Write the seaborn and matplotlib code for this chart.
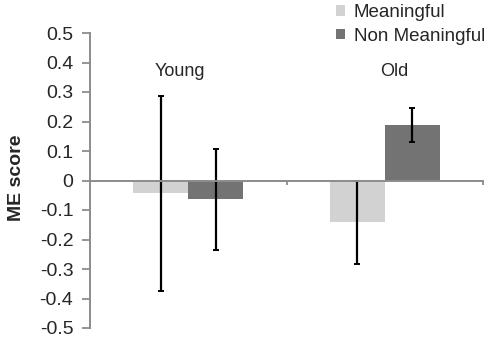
import matplotlib
matplotlib.use("Agg")
import matplotlib.pyplot as plt
import seaborn as sns
import pandas as pd
import numpy as np
from matplotlib.patches import Patch

groups = ["Young", "Old"]
conditions = ["Meaningful", "Non Meaningful"]
meaningful_vals = [-0.044, -0.142]
meaningful_err = [0.331, 0.142]
nonmeaningful_vals = [-0.064, 0.187]
nonmeaningful_err = [0.170, 0.058]
yticks = [-0.5, -0.4, -0.3, -0.2, -0.1, 0, 0.1, 0.2, 0.3, 0.4, 0.5]
ytick_labels = ["-0.5", "-0.4", "-0.3", "-0.2", "-0.1", "0", "0.1", "0.2", "0.3", "0.4", "0.5"]

df = pd.DataFrame({
    "group": groups * 2,
    "condition": [conditions[0]] * 2 + [conditions[1]] * 2,
    "score": meaningful_vals + nonmeaningful_vals,
    "err": meaningful_err + nonmeaningful_err,
})

sns.set_style("white")
plt.rcParams["font.family"] = ["Liberation Sans", "DejaVu Sans"]

colors = {"Meaningful": "#d2d2d2", "Non Meaningful": "#737373"}
axis_gray = "#8c8c8c"

fig = plt.figure(figsize=(4.9, 3.39), dpi=100)
ax = fig.add_axes([90 / 490, 1 - 328 / 339, (483 - 90) / 490, (328 - 33) / 339])

sns.barplot(data=df, x="group", y="score", hue="condition", order=groups,
            hue_order=conditions, palette=colors, width=0.56, errorbar=None,
            saturation=1, legend=False, ax=ax, linewidth=0)

# error bars from patches
bars = [p for p in ax.patches if p.get_width() > 0]
k = 0
for ci, cond in enumerate(conditions):
    for gi, g in enumerate(groups):
        p = bars[k]
        k += 1
        row = df[(df.group == g) & (df.condition == cond)].iloc[0]
        xc = p.get_x() + p.get_width() / 2
        ax.errorbar(xc, row.score, yerr=row.err, fmt="none", ecolor="black",
                    elinewidth=1.6, capsize=2, capthick=1.4, zorder=3)

ax.set_xlim(-0.5, 1.5)
ax.set_ylim(-0.5, 0.5)
ax.set_yticks(yticks)
ax.set_yticklabels(ytick_labels)
ax.set_xticks([0.5, 1.5])
ax.set_xticklabels([])
ax.set_xlabel("")

for s in ["top", "right"]:
    ax.spines[s].set_visible(False)
ax.spines["bottom"].set_position(("data", 0))
ax.spines["bottom"].set_zorder(6)
for s in ["left", "bottom"]:
    ax.spines[s].set_color(axis_gray)
    ax.spines[s].set_linewidth(1.4)

ax.tick_params(axis="y", direction="out", length=6, width=1.3, color=axis_gray,
               labelsize=14, pad=6, left=True)
ax.tick_params(axis="x", direction="out", length=3, width=1.3, color=axis_gray, bottom=True)

ax.set_ylabel("ME score", fontsize=14, fontweight="bold")
ax.yaxis.set_label_coords(-(90 - 25) / 393, 0.51)

ax.text(-0.04, 0.371, "Young", fontsize=13, ha="center", va="center")
ax.text(1.05, 0.371, "Old", fontsize=13, ha="center", va="center")

handles = [Patch(facecolor=colors[c], edgecolor="none", label=c) for c in conditions]
fig.legend(handles=handles, loc="upper left", bbox_to_anchor=(336 / 490, 1 - 4 / 339),
           frameon=False, fontsize=13.5, handlelength=0.5, handleheight=0.5,
           handletextpad=0.45, labelspacing=0.35, borderpad=0, borderaxespad=0)

fig.savefig("out.png", dpi=100)
